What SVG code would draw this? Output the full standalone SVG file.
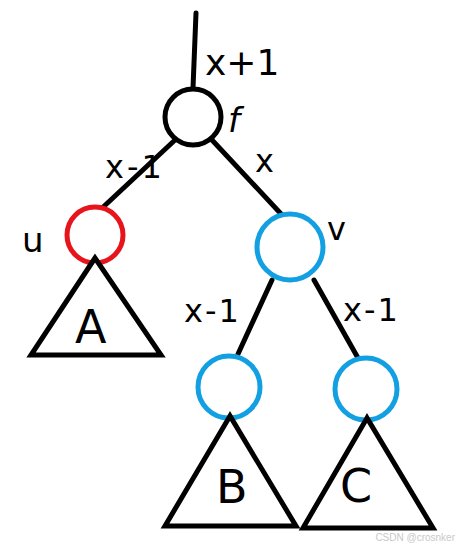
<svg xmlns="http://www.w3.org/2000/svg" width="459" height="548" viewBox="0 0 459 548">
<style>
.edge{stroke:#000;stroke-width:5;stroke-linecap:round;fill:none}
.red{fill:#fff;stroke:#e8141c;stroke-width:5}
.root{fill:#fff;stroke:#000;stroke-width:5}
.blue{fill:#fff;stroke:#12a0e2;stroke-width:5}
.tri{fill:#fff;stroke:#000;stroke-width:5;stroke-linejoin:miter}
.lbl{font-family:"DejaVu Sans",sans-serif;fill:#000}
.wm{font-family:"Liberation Sans",Arial,sans-serif;font-size:10px;fill:#c8c8c8}
</style>
<rect width="459" height="548" fill="#fff"/>
<g id="connectors">
<line class="edge" x1="196" y1="13" x2="193" y2="88"/>
<line class="edge" x1="175" y1="140" x2="100" y2="210"/>
<line class="edge" x1="212" y1="140" x2="283" y2="216"/>
<line class="edge" x1="272" y1="280" x2="238" y2="354"/>
<line class="edge" x1="314" y1="280" x2="358" y2="358"/>
</g>
<g id="node-f">
<circle class="root" cx="193" cy="117" r="28"/>
<text class="lbl" x="205" y="75" font-size="36">x+1</text>
<text class="lbl" x="228" y="132" font-size="34" font-style="italic">f</text>
</g>
<g id="node-u">
<circle class="red" cx="95" cy="235" r="28"/>
<text class="lbl" x="22" y="252" font-size="34">u</text>
</g>
<g id="node-A">
<polygon class="tri" points="95,258 31,355 161,355"/>
<text class="lbl" x="75" y="343" font-size="46">A</text>
</g>
<g id="node-v">
<circle class="blue" cx="290" cy="247" r="33"/>
<text class="lbl" x="327" y="240" font-size="32">v</text>
</g>
<g id="node-vl">
<circle class="blue" cx="229" cy="387" r="31"/>
</g>
<g id="node-vr">
<circle class="blue" cx="366" cy="389" r="31"/>
</g>
<g id="node-B">
<polygon class="tri" points="230,416 165,526 296,526"/>
<text class="lbl" x="216" y="503" font-size="46">B</text>
</g>
<g id="node-C">
<polygon class="tri" points="367,418 303,528 433,528"/>
<text class="lbl" x="340" y="502" font-size="46">C</text>
</g>
<g id="edge-labels">
<text class="lbl" x="105" y="178" font-size="32" letter-spacing="3">x-1</text>
<text class="lbl" x="255" y="172" font-size="32">x</text>
<text class="lbl" x="184" y="322" font-size="32" letter-spacing="2">x-1</text>
<text class="lbl" x="343" y="321" font-size="32" letter-spacing="2">x-1</text>
</g>
<text class="wm" x="455" y="541" text-anchor="end">CSDN @crosnker</text>
</svg>
